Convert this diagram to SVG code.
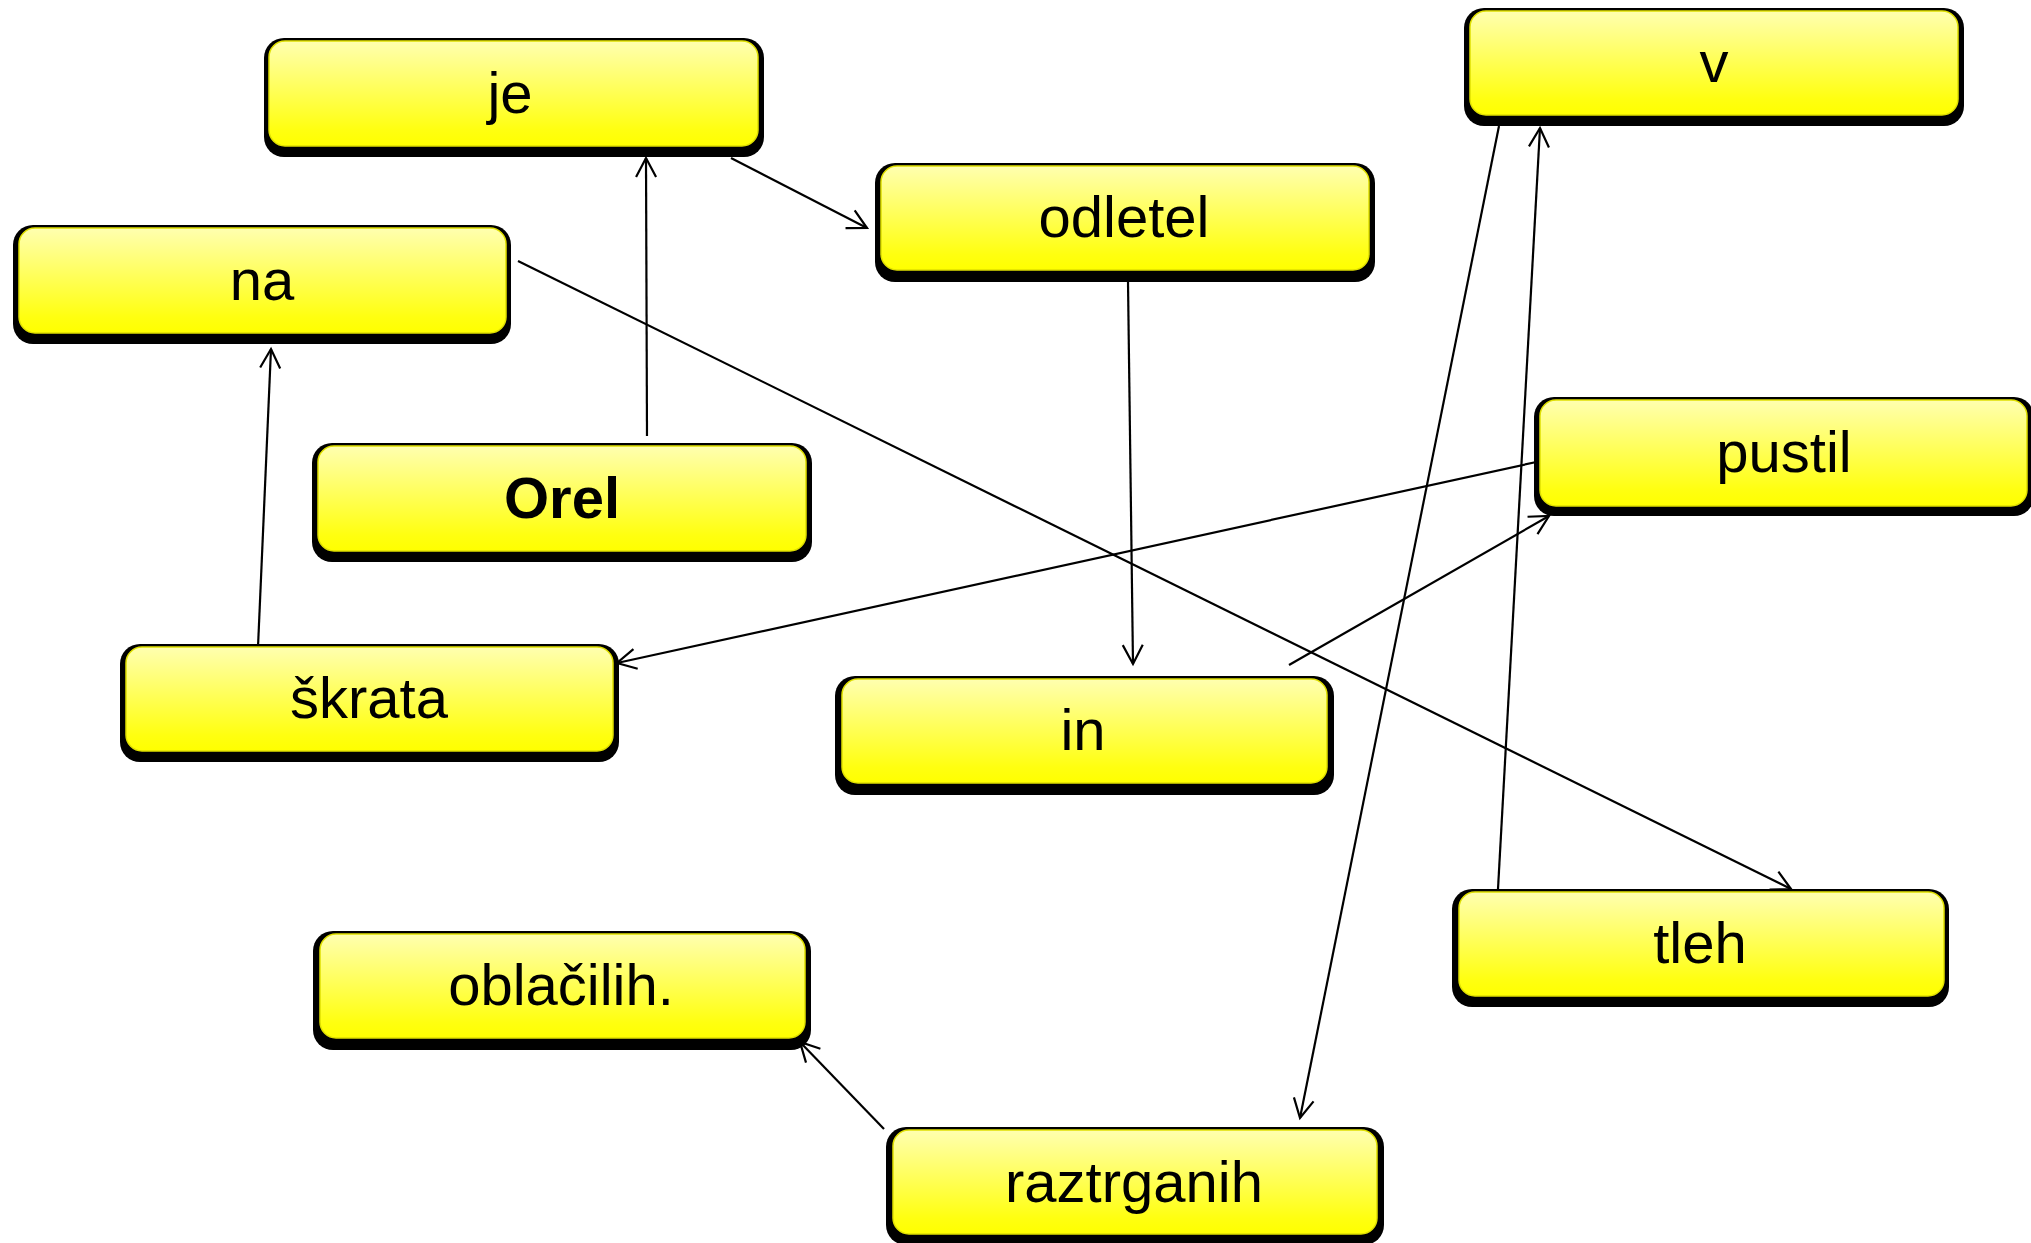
<svg xmlns="http://www.w3.org/2000/svg" width="2031" height="1243" viewBox="0 0 2031 1243">
<defs>
<linearGradient id="yg" x1="0" y1="0" x2="0" y2="1">
<stop offset="0" stop-color="#FFFFB0"/>
<stop offset="0.85" stop-color="#FFFF10"/>
<stop offset="1" stop-color="#FFFF00"/>
</linearGradient>
<marker id="arr" markerUnits="userSpaceOnUse" markerWidth="24" markerHeight="24" refX="19" refY="10" orient="auto" overflow="visible">
<path d="M0,0 L19,10 L0,20" fill="none" stroke="#000" stroke-width="2.2"/>
</marker>
</defs>
<style>
.sh{fill:#000}
.bx{fill:url(#yg);stroke:#E0E000;stroke-width:1.5}
.t{font-family:"Liberation Sans",Arial,sans-serif;font-size:58px;fill:#000;text-anchor:middle}
.b{font-weight:bold}
.c{fill:none;stroke:#000;stroke-width:2.2;marker-end:url(#arr)}
</style>
<rect width="2031" height="1243" fill="#fff"/>
<g id="connectors">
<line class="c" x1="647" y1="436" x2="646" y2="158"/>
<line class="c" x1="731" y1="158" x2="867" y2="228"/>
<line class="c" x1="1128" y1="282" x2="1133" y2="664"/>
<line class="c" x1="1289" y1="665" x2="1549" y2="516"/>
<line class="c" x1="1541" y1="461" x2="617" y2="663"/>
<line class="c" x1="258" y1="647" x2="271" y2="349"/>
<line class="c" x1="518" y1="261" x2="1791" y2="889"/>
<line class="c" x1="1498" y1="889" x2="1540" y2="128"/>
<line class="c" x1="1499" y1="126" x2="1300" y2="1118"/>
<line class="c" x1="884" y1="1129" x2="800" y2="1042"/>
</g>
<g id="node-je">
<rect class="sh" x="264" y="38" width="500" height="119" rx="20"/>
<rect class="bx" x="269" y="41" width="489" height="105" rx="16"/>
<text class="t" x="510" y="113">je</text>
</g>
<g id="node-na">
<rect class="sh" x="13" y="225" width="498" height="119" rx="20"/>
<rect class="bx" x="19" y="228" width="487" height="105" rx="16"/>
<text class="t" x="262" y="300">na</text>
</g>
<g id="node-odletel">
<rect class="sh" x="875" y="163" width="500" height="119" rx="20"/>
<rect class="bx" x="881" y="166" width="488" height="104" rx="16"/>
<text class="t" x="1124" y="237">odletel</text>
</g>
<g id="node-v">
<rect class="sh" x="1464" y="8" width="500" height="118" rx="20"/>
<rect class="bx" x="1470" y="11" width="488" height="104" rx="16"/>
<text class="t" x="1714" y="82">v</text>
</g>
<g id="node-pustil">
<rect class="sh" x="1534" y="397" width="500" height="119" rx="20"/>
<rect class="bx" x="1540" y="400" width="487" height="106" rx="16"/>
<text class="t" x="1784" y="472">pustil</text>
</g>
<g id="node-orel">
<rect class="sh" x="312" y="443" width="500" height="119" rx="20"/>
<rect class="bx" x="318" y="446" width="488" height="105" rx="16"/>
<text class="t b" x="562" y="518">Orel</text>
</g>
<g id="node-skrata">
<rect class="sh" x="120" y="644" width="499" height="118" rx="20"/>
<rect class="bx" x="126" y="647" width="487" height="104" rx="16"/>
<text class="t" x="369" y="718">škrata</text>
</g>
<g id="node-in">
<rect class="sh" x="835" y="676" width="499" height="119" rx="20"/>
<rect class="bx" x="842" y="679" width="485" height="104" rx="16"/>
<text class="t" x="1083" y="750">in</text>
</g>
<g id="node-tleh">
<rect class="sh" x="1452" y="889" width="497" height="118" rx="20"/>
<rect class="bx" x="1459" y="892" width="485" height="104" rx="16"/>
<text class="t" x="1700" y="963">tleh</text>
</g>
<g id="node-oblacilih">
<rect class="sh" x="313" y="931" width="498" height="119" rx="20"/>
<rect class="bx" x="320" y="934" width="485" height="104" rx="16"/>
<text class="t" x="561" y="1005">oblačilih.</text>
</g>
<g id="node-raztrganih">
<rect class="sh" x="886" y="1127" width="498" height="118" rx="20"/>
<rect class="bx" x="893" y="1130" width="484" height="104" rx="16"/>
<text class="t" x="1134" y="1202">raztrganih</text>
</g>
</svg>
